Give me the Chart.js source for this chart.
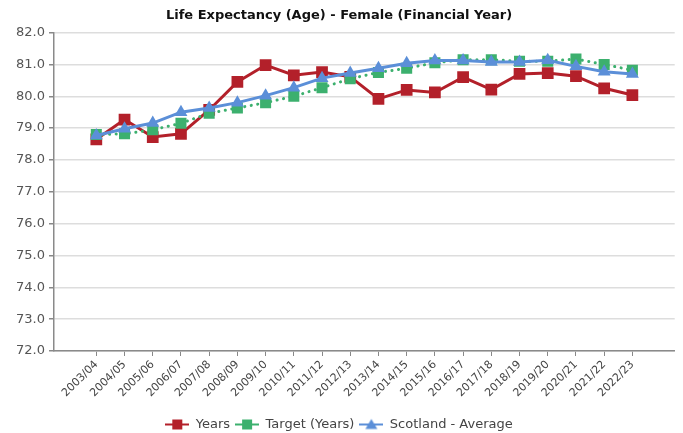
<!DOCTYPE html>
<html>
<head>
<meta charset="utf-8">
<script src="https://cdn.jsdelivr.net/npm/chart.js@4"></script>
<style>
  body { margin: 0; background: #fff; }
  #wrap { width: 683px; height: 433px; }
</style>
</head>
<body>
<div id="wrap"><canvas id="myChart"></canvas></div>
<script>
// data
const years = ['2003/04', '2004/05', '2005/06', '2006/07', '2007/08', '2008/09', '2009/10',
  '2010/11', '2011/12', '2012/13', '2013/14', '2014/15', '2015/16', '2016/17', '2017/18',
  '2018/19', '2019/20', '2020/21', '2021/22', '2022/23'];
const actual = [78.65, 79.27, 78.72, 78.82, 79.57, 80.45, 80.98, 80.66, 80.76, 80.61, 79.92,
  80.2, 80.12, 80.6, 80.21, 80.7, 80.73, 80.63, 80.25, 80.04];
const target = [78.8, 78.82, 78.95, 79.15, 79.47, 79.63, 79.8, 80.0, 80.27, 80.55, 80.75,
  80.88, 81.05, 81.15, 81.15, 81.1, 81.1, 81.17, 81.0, 80.82];
const scotland = [78.77, 78.98, 79.16, 79.5, 79.63, 79.8, 80.02, 80.27, 80.57, 80.73, 80.88,
  81.04, 81.12, 81.12, 81.08, 81.08, 81.13, 80.94, 80.77, 80.7];
const yTicks = [72, 73, 74, 75, 76, 77, 78, 79, 80, 81, 82];

// one empty slot either side of the categories, like the original
const labels = [''].concat(years, ['']);
const pad = arr => [null].concat(arr, [null]);

const RED = '#b3202a';
const GREEN = '#3cb06e';
const BLUE = '#5b8fd8';

// little "line + marker" icon for the legend
function legendIcon(color, style) {
  const c = document.createElement('canvas');
  c.width = 24; c.height = 14;
  const g = c.getContext('2d');
  g.strokeStyle = color;
  g.fillStyle = color;
  g.lineWidth = 2;
  g.beginPath(); g.moveTo(0, 7); g.lineTo(24, 7); g.stroke();
  if (style === 'rect') {
    g.fillRect(7, 2, 10, 10);
  } else {
    g.beginPath(); g.moveTo(12, 1.5); g.lineTo(18, 11.5); g.lineTo(6, 11.5); g.closePath(); g.fill();
  }
  return c;
}

const ctx = document.getElementById('myChart').getContext('2d');

const chart = new Chart(ctx, {
  type: 'line',
  data: {
    labels: labels,
    datasets: [
      {
        label: 'Years',
        data: pad(actual),
        borderColor: RED,
        backgroundColor: RED,
        borderWidth: 3,
        pointStyle: 'rect',
        pointRadius: 8.3,
        pointBorderWidth: 0,
        order: 3,
        tension: 0
      },
      {
        label: 'Target (Years)',
        data: pad(target),
        borderColor: GREEN,
        backgroundColor: GREEN,
        borderWidth: 3,
        borderDash: [0.1, 6.5],
        borderCapStyle: 'round',
        pointStyle: 'rect',
        pointRadius: 7.8,
        pointBorderWidth: 0,
        order: 2,
        tension: 0
      },
      {
        label: 'Scotland - Average',
        data: pad(scotland),
        borderColor: BLUE,
        backgroundColor: BLUE,
        borderWidth: 3,
        pointStyle: 'triangle',
        pointRadius: 7.5,
        pointBorderWidth: 0,
        order: 1,
        tension: 0
      }
    ]
  },
  options: {
    responsive: true,
    maintainAspectRatio: false,
    animation: false,
    layout: { padding: { left: 0, right: 5, top: 0, bottom: -8 } },
    plugins: {
      title: {
        display: true,
        text: 'Life Expectancy (Age) - Female (Financial Year)',
        color: '#111',
        font: { family: 'DejaVu Sans', size: 13, weight: 'bold', lineHeight: 1.2 },
        padding: { top: 8, bottom: 9 }
      },
      legend: {
        position: 'bottom',
        labels: {
          color: '#444',
          font: { family: 'DejaVu Sans', size: 13 },
          usePointStyle: true,
          pointStyleWidth: 24,
          boxHeight: 13,
          padding: 5,
          generateLabels: ch => ch.data.datasets.map((ds, i) => ({
            text: ds.label,
            fillStyle: ds.borderColor,
            strokeStyle: ds.borderColor,
            fontColor: '#444',
            lineWidth: 0,
            pointStyle: legendIcon(ds.borderColor, ds.pointStyle),
            datasetIndex: i
          }))
        }
      },
      tooltip: { enabled: false }
    },
    scales: {
      x: {
        offset: true,
        afterFit: axis => { axis.height = 62; },
        grid: {
          drawOnChartArea: false,
          drawTicks: true,
          tickLength: 5,
          tickColor: c => (c.tick && c.tick.label === '') ? 'rgba(0,0,0,0)' : '#888'
        },
        border: { color: '#8a8a8a', width: 1.5 },
        ticks: {
          color: '#444',
          font: { family: 'DejaVu Sans', size: 11 },
          maxRotation: 45,
          minRotation: 45,
          autoSkip: false,
          padding: 2
        }
      },
      y: {
        min: 72,
        max: 82,
        afterBuildTicks: axis => { axis.ticks = yTicks.map(v => ({ value: v })); },
        afterFit: axis => { axis.width = 54; },
        grid: {
          color: '#dddddd',
          lineWidth: 1.5,
          tickLength: 5,
          tickColor: '#888'
        },
        border: { color: '#8a8a8a', width: 1.5 },
        ticks: {
          color: '#555',
          font: { family: 'DejaVu Sans', size: 13 },
          padding: 4,
          callback: v => Number(v).toFixed(1)
        }
      }
    }
  }
});
</script>
</body>
</html>
